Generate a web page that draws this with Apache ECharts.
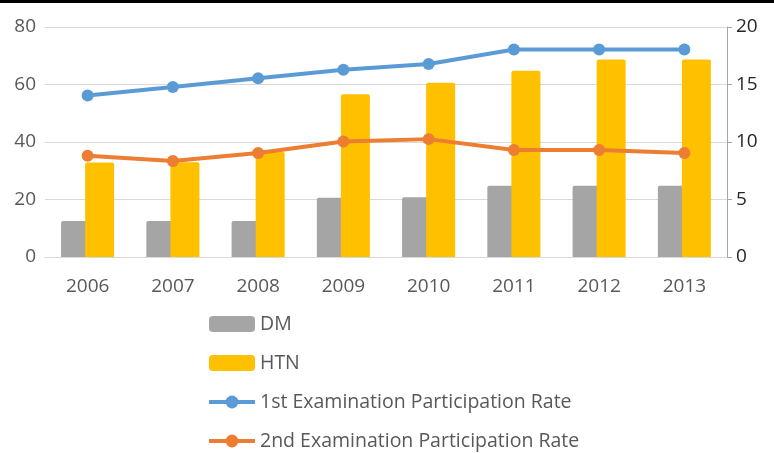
<!DOCTYPE html>
<html>
<head>
<meta charset="utf-8">
<script src="https://cdn.jsdelivr.net/npm/echarts@6/dist/echarts.min.js"></script>
<style>
  html, body { margin: 0; padding: 0; background: #fff; }
  #chart { width: 774px; height: 453px; }
</style>
</head>
<body>
<div id="chart"></div>
<script>
// 데이터
var years = ['2006', '2007', '2008', '2009', '2010', '2011', '2012', '2013'];
var dm = [12.5, 12.5, 12.5, 20.6, 20.8, 24.8, 24.8, 24.8];
var htn = [32.9, 33, 36.6, 56.6, 60.6, 64.8, 68.7, 68.7];
var firstRate = [56.2, 59.1, 62.2, 65.1, 67.1, 72.2, 72.2, 72.2];
var secondRate = [8.8, 8.35, 9.05, 10.05, 10.25, 9.3, 9.3, 9.05];
var leftTicks = [0, 20, 40, 60, 80];
var rightTicks = [0, 5, 10, 15, 20];

var chart = echarts.init(document.getElementById('chart'));
var font = '"Open Sans", "Noto Sans", sans-serif';

var option = {
    animation: false,
    textStyle: { fontFamily: font },
    graphic: [
        { type: 'rect', shape: { x: 0, y: 0, width: 774, height: 3 }, style: { fill: '#000' } }
    ],
    grid: { left: 45, right: 47, top: 27, bottom: 196 },
    legend: {
        orient: 'vertical',
        left: 202,
        top: 309,
        height: 160,
        itemWidth: 46,
        itemHeight: 16,
        itemGap: 19,
        textStyle: { fontSize: 19.5, color: '#595959', fontFamily: font },
        data: [
            'DM',
            'HTN',
            { name: '1st Examination Participation Rate', lineStyle: { width: 4 } },
            { name: '2nd Examination Participation Rate', lineStyle: { width: 4 } }
        ]
    },
    xAxis: {
        type: 'category',
        data: years,
        axisLine: { lineStyle: { color: '#d9d9d9' } },
        axisTick: { show: false },
        axisLabel: { fontSize: 19, color: '#595959', margin: 20 }
    },
    yAxis: [
        {
            type: 'value', min: leftTicks[0], max: leftTicks[leftTicks.length - 1], interval: 20,
            axisLine: { show: false },
            axisTick: { show: false },
            axisLabel: { fontSize: 19, color: '#595959', margin: 9 },
            splitLine: { lineStyle: { color: '#d9d9d9', width: 1 } }
        },
        {
            type: 'value', min: rightTicks[0], max: rightTicks[rightTicks.length - 1], interval: 5,
            position: 'right',
            axisLine: { show: true, lineStyle: { color: '#a6a6a6' } },
            axisTick: { show: true, inside: false, length: 5, lineStyle: { color: '#a6a6a6' } },
            axisLabel: { fontSize: 19, color: '#262626', margin: 9 },
            splitLine: { show: false }
        }
    ],
    series: [
        {
            name: 'DM', type: 'bar', data: dm, yAxisIndex: 0,
            barWidth: 29, barGap: '-17%',
            itemStyle: { color: '#a5a5a5', borderRadius: [2, 2, 0, 0] }
        },
        {
            name: 'HTN', type: 'bar', data: htn, yAxisIndex: 0,
            barWidth: 29, barGap: '-17%',
            itemStyle: { color: '#ffc000', borderRadius: [2, 2, 0, 0] }
        },
        {
            name: '1st Examination Participation Rate', type: 'line', data: firstRate, yAxisIndex: 0,
            symbol: 'circle', symbolSize: 12,
            lineStyle: { color: '#5b9bd5', width: 4 },
            itemStyle: { color: '#5b9bd5' }
        },
        {
            name: '2nd Examination Participation Rate', type: 'line', data: secondRate, yAxisIndex: 1,
            symbol: 'circle', symbolSize: 12,
            lineStyle: { color: '#ed7d31', width: 4 },
            itemStyle: { color: '#ed7d31' }
        }
    ]
};

chart.setOption(option);
</script>
</body>
</html>
